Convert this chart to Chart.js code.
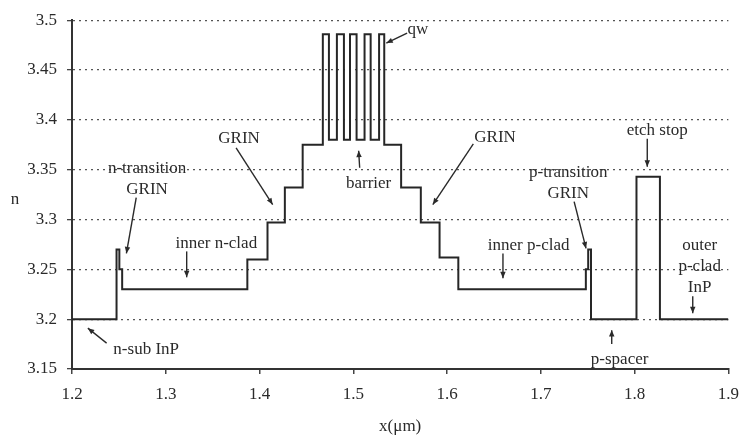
<!DOCTYPE html>
<html>
<head>
<meta charset="utf-8">
<script src="https://cdn.jsdelivr.net/npm/chart.js@4"></script>
<style>
    html, body { margin: 0; padding: 0; background: #ffffff; }
    #wrap { width: 749px; height: 436px; }
</style>
</head>
<body>
<div id="wrap"><canvas id="profile"></canvas></div>
<script>
/* ========================================
   Refractive index profile n(x)
   step breakpoints
   ======================================== */

// left edge of each layer (um) and its index, held until the next edge
const stepX = [1.2, 1.2475, 1.2505, 1.2535, 1.387, 1.4085, 1.427, 1.446,
               1.4675, 1.474, 1.4825, 1.49, 1.4965, 1.5035, 1.512, 1.5185, 1.5275, 1.533,
               1.551, 1.572, 1.592, 1.612, 1.748, 1.7505, 1.7535, 1.802, 1.827, 1.9];
const stepN = [3.2, 3.27, 3.25, 3.23, 3.26, 3.297, 3.332, 3.375,
               3.486, 3.38, 3.486, 3.38, 3.486, 3.38, 3.486, 3.38, 3.486, 3.375,
               3.332, 3.297, 3.262, 3.23, 3.25, 3.27, 3.2, 3.343, 3.2, 3.2];

const xTicks = [1.2, 1.3, 1.4, 1.5, 1.6, 1.7, 1.8, 1.9];
const yTicks = [3.15, 3.2, 3.25, 3.3, 3.35, 3.4, 3.45, 3.5];

// layer labels, anchored in data units (x, n of first line)
const noteText = [
    ['qw'], ['barrier'], ['GRIN'], ['GRIN'],
    ['n-transition', 'GRIN'], ['inner n-clad'], ['n-sub InP'],
    ['inner p-clad'], ['p-transition', 'GRIN'], ['etch stop'],
    ['outer', 'p-clad', 'InP'], ['p-spacer']
];
const noteX = [1.569, 1.5163, 1.3782, 1.6512, 1.2801, 1.3539, 1.2791, 1.687, 1.7292, 1.8241, 1.8694, 1.784];
const noteN = [3.491, 3.336, 3.381, 3.382, 3.351, 3.276, 3.170, 3.274, 3.347, 3.389, 3.274, 3.159];

// pointer arrows: tail -> head
const arrowFromX = [1.5574, 1.5068, 1.375, 1.628, 1.2685, 1.3223, 1.2369, 1.6596, 1.7355, 1.8135, 1.862, 1.7756];
const arrowFromN = [3.487, 3.352, 3.372, 3.376, 3.322, 3.268, 3.176, 3.266, 3.318, 3.381, 3.223, 3.175];
const arrowToX   = [1.5352, 1.5057, 1.414, 1.5848, 1.258, 1.3223, 1.2169, 1.6596, 1.7482, 1.8135, 1.862, 1.7756];
const arrowToN   = [3.477, 3.369, 3.315, 3.315, 3.266, 3.242, 3.191, 3.241, 3.271, 3.353, 3.206, 3.189];

const INK = '#262626';
const SERIF = '"Liberation Serif", "DejaVu Serif", serif';

const notesPlugin = {
    id: 'notes',
    afterDraw(chart) {
        const { ctx, chartArea } = chart;
        const xs = chart.scales.x;
        const ys = chart.scales.y;
        ctx.save();
        ctx.fillStyle = '#2a2a2a';
        ctx.strokeStyle = '#2a2a2a';
        ctx.font = '17px ' + SERIF;
        ctx.textAlign = 'center';
        ctx.textBaseline = 'middle';

        noteText.forEach((lines, i) => {
            const px = xs.getPixelForValue(noteX[i]);
            const py = ys.getPixelForValue(noteN[i]);
            lines.forEach((line, k) => ctx.fillText(line, px, py + k * 21));
        });

        ctx.lineWidth = 1.4;
        arrowFromX.forEach((fx, i) => {
            const x1 = xs.getPixelForValue(fx), y1 = ys.getPixelForValue(arrowFromN[i]);
            const x2 = xs.getPixelForValue(arrowToX[i]), y2 = ys.getPixelForValue(arrowToN[i]);
            const a = Math.atan2(y2 - y1, x2 - x1);
            ctx.beginPath();
            ctx.moveTo(x1, y1);
            ctx.lineTo(x2, y2);
            ctx.stroke();
            ctx.beginPath();
            ctx.moveTo(x2, y2);
            ctx.lineTo(x2 - 7 * Math.cos(a - 0.4), y2 - 7 * Math.sin(a - 0.4));
            ctx.lineTo(x2 - 7 * Math.cos(a + 0.4), y2 - 7 * Math.sin(a + 0.4));
            ctx.closePath();
            ctx.fill();
        });

        // axis titles
        ctx.fillText('x(\u03bcm)', (chartArea.left + chartArea.right) / 2, 427);
        ctx.fillText('n', 15, 200);
        ctx.restore();
    }
};

new Chart(document.getElementById('profile'), {
    type: 'line',
    data: {
        datasets: [{
            label: 'n',
            data: stepX.map((x, i) => ({ x: x, y: stepN[i] })),
            stepped: 'before',
            borderColor: INK,
            borderWidth: 2,
            pointRadius: 0,
            fill: false
        }]
    },
    options: {
        responsive: true,
        maintainAspectRatio: false,
        animation: false,
        devicePixelRatio: 1,
        layout: { padding: { left: 0, right: 13, top: 19, bottom: 0 } },
        plugins: {
            legend: { display: false },
            tooltip: { enabled: false }
        },
        scales: {
            x: {
                type: 'linear',
                min: 1.2,
                max: 1.9,
                afterBuildTicks: s => { s.ticks = xTicks.map(v => ({ value: v })); },
                afterFit: s => { s.height = 67; },
                ticks: {
                    color: '#2a2a2a',
                    font: { family: SERIF, size: 17 },
                    padding: 10,
                    maxRotation: 0,
                    callback: v => v.toFixed(1)
                },
                grid: { drawOnChartArea: false, tickLength: 5, color: '#444444', lineWidth: 1.5 },
                border: { color: '#333333', width: 2 }
            },
            y: {
                min: 3.15,
                max: 3.5,
                afterBuildTicks: s => { s.ticks = yTicks.map(v => ({ value: v })); },
                afterFit: s => { s.width = 72; },
                ticks: {
                    color: '#2a2a2a',
                    font: { family: SERIF, size: 17 },
                    padding: 10,
                    callback: v => String(+v.toFixed(2))
                },
                grid: { color: '#555555', lineWidth: 1.3, tickLength: 5, tickColor: '#444444' },
                border: { color: '#333333', width: 2, dash: [2, 4] }
            }
        }
    },
    plugins: [notesPlugin]
});
</script>
</body>
</html>
